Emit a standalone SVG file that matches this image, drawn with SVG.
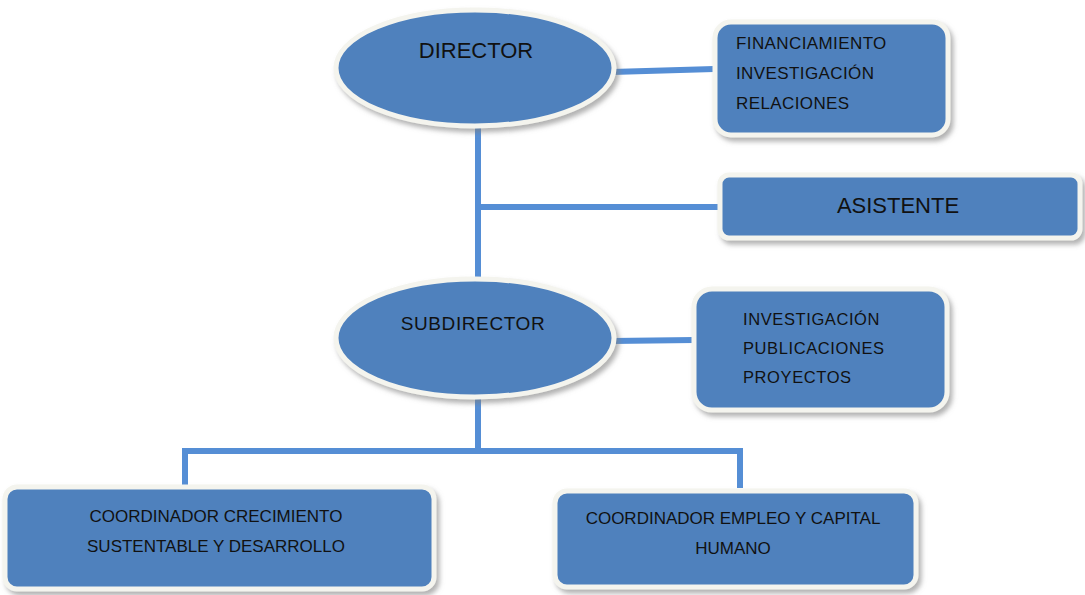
<svg xmlns="http://www.w3.org/2000/svg" width="1085" height="595" viewBox="0 0 1085 595">
<defs>
<filter id="sh" x="-10%" y="-10%" width="125%" height="130%">
<feDropShadow dx="3" dy="4" stdDeviation="2.5" flood-color="#7f7f7f" flood-opacity="0.6"/>
</filter>
<style>
.n{fill:#4F81BD;stroke:#F4F4EE;stroke-width:5;filter:url(#sh)}
.c{fill:none;stroke:#558ED5;stroke-width:6}
.t{font-family:"Liberation Sans",Arial,sans-serif;fill:#111;}
</style>
</defs>
<rect width="1085" height="595" fill="#fff"/>
<g id="connectors">
<line class="c" x1="612" y1="72" x2="714" y2="69"/>
<line class="c" x1="478" y1="126" x2="478" y2="280"/>
<line class="c" x1="478" y1="207" x2="722" y2="207"/>
<line class="c" x1="612" y1="341" x2="694" y2="340"/>
<line class="c" x1="478" y1="396" x2="478" y2="450"/>
<polyline class="c" points="185,488 185,451 740,451 740,488"/>
</g>
<g id="director">
<ellipse class="n" cx="475" cy="68" rx="139" ry="58"/>
<text class="t" x="476" y="58" font-size="22" text-anchor="middle">DIRECTOR</text>
</g>
<g id="financiamiento">
<rect class="n" x="715" y="22" width="233" height="113" rx="16"/>
<text class="t" x="736" y="49" font-size="17" letter-spacing="0.4">FINANCIAMIENTO</text>
<text class="t" x="736" y="79" font-size="17" letter-spacing="0.4">INVESTIGACIÓN</text>
<text class="t" x="736" y="109" font-size="17" letter-spacing="0.4">RELACIONES</text>
</g>
<g id="asistente">
<rect class="n" x="720" y="175" width="360" height="63" rx="9"/>
<text class="t" x="898" y="213" font-size="22" text-anchor="middle">ASISTENTE</text>
</g>
<g id="subdirector">
<ellipse class="n" cx="475" cy="338" rx="139" ry="59"/>
<text class="t" x="473" y="330" font-size="19" letter-spacing="0.6" text-anchor="middle">SUBDIRECTOR</text>
</g>
<g id="investigacion">
<rect class="n" x="694" y="289" width="253" height="121" rx="18"/>
<text class="t" x="743" y="325" font-size="16.5" letter-spacing="0.6">INVESTIGACIÓN</text>
<text class="t" x="743" y="354" font-size="16.5" letter-spacing="0.6">PUBLICACIONES</text>
<text class="t" x="743" y="383" font-size="16.5" letter-spacing="0.6">PROYECTOS</text>
</g>
<g id="coord-crecimiento">
<rect class="n" x="5" y="487" width="429" height="102" rx="12"/>
<text class="t" x="216" y="522" font-size="17" text-anchor="middle">COORDINADOR CRECIMIENTO</text>
<text class="t" x="216" y="552" font-size="17" text-anchor="middle">SUSTENTABLE Y DESARROLLO</text>
</g>
<g id="coord-empleo">
<rect class="n" x="555" y="491" width="361" height="96" rx="12"/>
<text class="t" x="733" y="524" font-size="17" text-anchor="middle">COORDINADOR EMPLEO Y CAPITAL</text>
<text class="t" x="733" y="554" font-size="17" text-anchor="middle">HUMANO</text>
</g>
</svg>
